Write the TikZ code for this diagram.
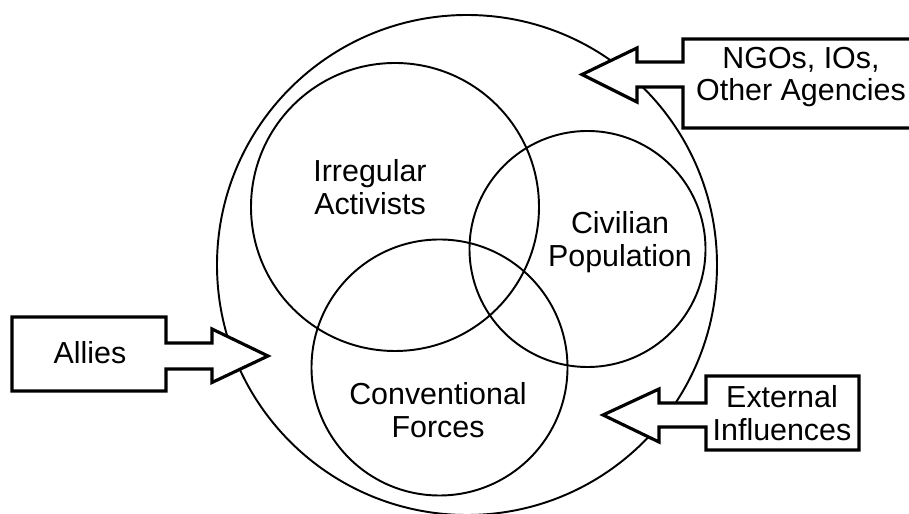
\documentclass[tikz,border=0pt]{standalone}
\usepackage{fontspec}
\setmainfont{Liberation Sans}
\tikzset{
  ring/.style={line width=1.1pt},
  pointer/.style={line width=1.8pt, fill=white, line join=miter},
  lbl/.style={align=center, inner sep=0pt, font=\fontsize{17.3}{18.6}\selectfont}
}
\begin{document}
\begin{tikzpicture}
\useasboundingbox (0,0) rectangle (18.18,10.28);
% outer environment and the three groups
\draw[ring] (9.34,4.98) circle (5.0);
\draw[ring] (7.9,6.14) circle (2.88);
\draw[ring] (11.75,5.3) circle (2.36);
\draw[ring] (8.79,2.93) circle (2.56);
\node[lbl] (irregular) at (7.4,6.54) {Irregular\\Activists};
\node[lbl] (civilian) at (12.4,5.44) {Civilian\\Population};
\node[lbl] (conventional) at (8.76,2.08) {Conventional\\Forces};
% box arrows
\draw[pointer] (18.18,9.5) -- (13.66,9.5) -- (13.66,9.04) -- (12.74,9.04) -- (12.74,9.32)
  -- (11.64,8.79) -- (12.74,8.24) -- (12.74,8.54) -- (13.66,8.54) -- (13.66,7.72) -- (18.18,7.72);
\node[lbl] (ngos) at (16.02,8.74) {NGOs, IOs,\\Other Agencies};
\draw[pointer] (0.24,3.94) -- (3.32,3.94) -- (3.32,3.42) -- (4.24,3.42) -- (4.24,3.7)
  -- (5.36,3.16) -- (4.24,2.63) -- (4.24,2.9) -- (3.32,2.9) -- (3.32,2.46) -- (0.24,2.46) -- cycle;
\node[lbl] (allies) at (1.8,3.22) {Allies};
\draw[pointer] (17.18,2.76) -- (14.12,2.76) -- (14.12,2.22) -- (13.18,2.22) -- (13.18,2.5)
  -- (12.06,1.98) -- (13.18,1.44) -- (13.18,1.74) -- (14.12,1.74) -- (14.12,1.28) -- (17.18,1.28) -- cycle;
\node[lbl] (external) at (15.64,2.02) {External\\Influences};
\end{tikzpicture}
\end{document}
